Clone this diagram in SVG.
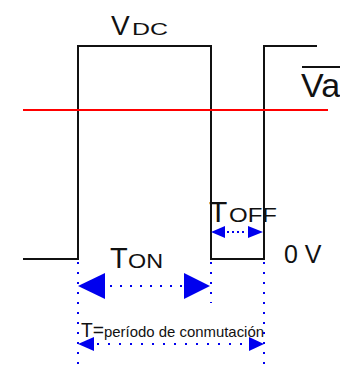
<svg xmlns="http://www.w3.org/2000/svg" width="340" height="365" viewBox="0 0 340 365">
<style>
.wave{fill:none;stroke:#111;stroke-width:2}
.avg{fill:none;stroke:#ff0000;stroke-width:2}
.dot{fill:none;stroke:#0000ee;stroke-width:2;stroke-dasharray:2 8}
.dot2{fill:none;stroke:#0000ee;stroke-width:2;stroke-dasharray:2 3}
.head{fill:#0000ee}
text{font-family:"Liberation Sans",Arial,sans-serif;fill:#111}
</style>
<rect width="340" height="365" fill="#fff"/>
<g id="waveform">
<polyline class="wave" points="23,259 78,259 78,46 211,46 211,259 264,259 264,46 317,46"/>
</g>
<g id="average">
<line class="avg" x1="23" y1="110" x2="328" y2="110"/>
</g>
<g id="connectors">
<line class="dot" x1="78" y1="262" x2="78" y2="365"/>
<line class="dot" x1="211" y1="262" x2="211" y2="303"/>
<line class="dot" x1="264" y1="262" x2="264" y2="365"/>
<line class="dot" x1="110" y1="286" x2="182" y2="286"/>
<polygon class="head" points="78,286 105,273 105,299"/>
<polygon class="head" points="210,286 184,273 184,299"/>
<line class="dot2" x1="227" y1="232" x2="247" y2="232"/>
<polygon class="head" points="211,232 225,226 225,238"/>
<polygon class="head" points="263,232 248,226 248,238"/>
<line class="dot" x1="97" y1="344" x2="247" y2="344" style="stroke-dasharray:2 9"/>
<polygon class="head" points="78,344 94,337 94,351"/>
<polygon class="head" points="264,344 249,337 249,351"/>
</g>
<g id="label-vdc">
<text x="111" y="35" font-size="28">V</text>
<text x="132" y="35" font-size="17" textLength="36" lengthAdjust="spacingAndGlyphs">DC</text>
</g>
<g id="label-va">
<line x1="302" y1="67" x2="340" y2="67" stroke="#111" stroke-width="2"/>
<text x="301" y="97" font-size="34">Va</text>
</g>
<g id="label-ton">
<text x="110" y="268" font-size="29">T</text>
<text x="128" y="268" font-size="21" textLength="35" lengthAdjust="spacingAndGlyphs">ON</text>
</g>
<g id="label-toff">
<text x="209" y="222" font-size="30">T</text>
<text x="229" y="222" font-size="21" textLength="48" lengthAdjust="spacingAndGlyphs">OFF</text>
</g>
<g id="label-0v">
<text x="284" y="263" font-size="25">0 V</text>
</g>
<g id="label-period">
<text x="81" y="337" font-size="21" textLength="23" lengthAdjust="spacingAndGlyphs">T=</text>
<text x="104" y="337" font-size="15" textLength="160" lengthAdjust="spacingAndGlyphs">período de conmutación</text>
</g>
</svg>
